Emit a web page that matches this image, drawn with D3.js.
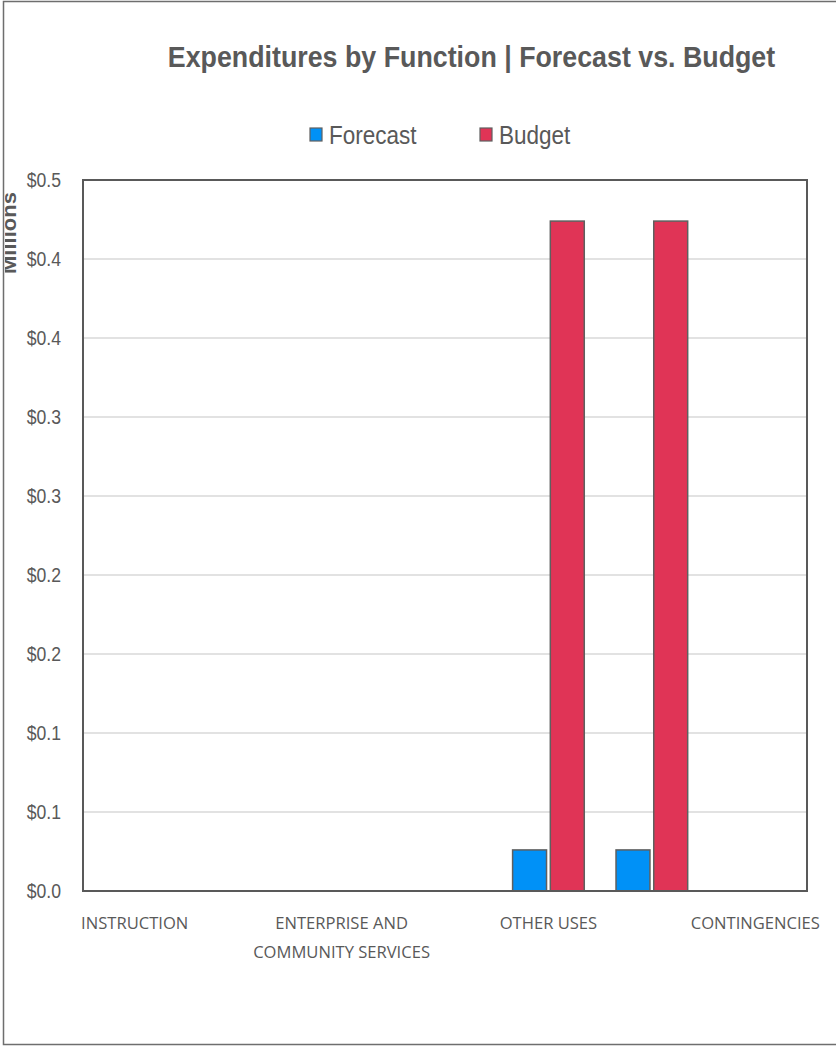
<!DOCTYPE html>
<html>
<head>
<meta charset="utf-8">
<script src="https://cdn.jsdelivr.net/npm/d3@7"></script>
<style>
  html, body { margin: 0; padding: 0; background: #fff; }
  svg { display: block; }
</style>
</head>
<body>
<div id="chart"></div>
<script>
// Expenditures by function, in millions of dollars
const categories = [
  "INSTRUCTION",
  "SUPPORT SERVICES",
  "ENTERPRISE AND COMMUNITY SERVICES",
  "FACILITIES ACQUISITION AND CONSTRUCTION",
  "OTHER USES",
  "TRANSFERS",
  "CONTINGENCIES"
];
// Only every other category name is printed on the axis
const shownCategories = ["INSTRUCTION", "ENTERPRISE AND COMMUNITY SERVICES", "OTHER USES", "CONTINGENCIES"];
const seriesNames = ["Forecast", "Budget"];
const forecastValues = [0, 0, 0, 0, 0.026, 0.026, 0];
const budgetValues = [0, 0, 0, 0, 0.424, 0.424, 0];
const yTickValues = [0, 0.05, 0.10, 0.15, 0.20, 0.25, 0.30, 0.35, 0.40, 0.45];
const yTickLabels = ["$0.0", "$0.1", "$0.1", "$0.2", "$0.2", "$0.3", "$0.3", "$0.4", "$0.4", "$0.5"];
const seriesColors = ["#0091F7", "#E03456"];

const W = 836, H = 1049;
const plot = { left: 83, right: 807, top: 180, bottom: 891 };
const textGrey = "#595959";
const sans = "'Liberation Sans', Arial, sans-serif";

// squeeze a text element horizontally by a factor (narrow face look)
function condense(sel, factor) {
  sel.each(function () {
    const len = this.getComputedTextLength();
    d3.select(this)
      .attr("textLength", len * factor)
      .attr("lengthAdjust", "spacingAndGlyphs");
  });
}

const svg = d3.select("#chart").append("svg")
  .attr("width", W).attr("height", H);

// outer chart frame
svg.append("rect")
  .attr("x", 3.5).attr("y", 1.5)
  .attr("width", W + 10).attr("height", 1043)
  .attr("fill", "#fff").attr("stroke", "#6e6e6e").attr("stroke-width", 1.5);

const rows = categories.map((c, i) => ({
  category: c,
  values: [forecastValues[i], budgetValues[i]]
}));

const x0 = d3.scaleBand()
  .domain(categories)
  .range([plot.left, plot.right])
  .paddingInner(0.307)
  .paddingOuter(0.1535);

const x1 = d3.scaleBand()
  .domain(seriesNames)
  .range([0, x0.bandwidth()])
  .paddingInner(0.1);

const y = d3.scaleLinear()
  .domain([0, 0.45])
  .range([plot.bottom, plot.top]);

// horizontal gridlines
svg.append("g")
  .selectAll("line")
  .data(yTickValues.slice(1))
  .join("line")
  .attr("x1", plot.left).attr("x2", plot.right)
  .attr("y1", d => y(d)).attr("y2", d => y(d))
  .attr("stroke", "#d9d9d9").attr("stroke-width", 1.5);

// y axis labels
const yAxis = d3.axisLeft(y)
  .tickValues(yTickValues)
  .tickFormat((d, i) => yTickLabels[i])
  .tickSize(0)
  .tickPadding(22);
const gy = svg.append("g")
  .attr("transform", `translate(${plot.left},0)`)
  .call(yAxis);
gy.select(".domain").remove();
gy.selectAll("text")
  .attr("fill", textGrey)
  .style("font-family", sans)
  .style("font-size", "20px")
  .call(condense, 0.88);

// bars
const groups = svg.append("g")
  .selectAll("g")
  .data(rows)
  .join("g")
  .attr("transform", d => `translate(${x0(d.category)},0)`);

groups.selectAll("rect")
  .data(d => d.values.map((v, k) => ({ series: seriesNames[k], value: v, k })))
  .join("rect")
  .filter(d => d.value > 0)
  .attr("x", d => x1(d.series))
  .attr("y", d => y(d.value))
  .attr("width", x1.bandwidth())
  .attr("height", d => y(0) - y(d.value))
  .attr("fill", d => seriesColors[d.k])
  .attr("stroke", "#5f5f5f")
  .attr("stroke-width", 1.5);

// plot area frame
svg.append("rect")
  .attr("x", plot.left).attr("y", plot.top)
  .attr("width", plot.right - plot.left)
  .attr("height", plot.bottom - plot.top)
  .attr("fill", "none")
  .attr("stroke", "#595959").attr("stroke-width", 2);

// category labels (wrapped)
const xAxis = d3.axisBottom(x0)
  .tickValues(shownCategories)
  .tickSize(0)
  .tickPadding(0);
const gx = svg.append("g")
  .attr("transform", `translate(0,${plot.bottom})`)
  .call(xAxis);
gx.select(".domain").remove();
gx.selectAll("text").each(function (d) {
  const t = d3.select(this);
  const lines = d === "ENTERPRISE AND COMMUNITY SERVICES"
    ? ["ENTERPRISE AND", "COMMUNITY SERVICES"] : [d];
  t.text(null)
    .attr("fill", textGrey)
    .attr("y", 0).attr("dy", null)
    .style("font-family", "'Open Sans', " + sans)
    .style("font-size", "17px");
  lines.forEach((ln, i) => {
    t.append("tspan").attr("x", 0).attr("y", 38 + i * 29).text(ln);
  });
});
gx.selectAll("tspan").call(condense, 0.975);

// title
svg.append("text")
  .attr("x", 471.5).attr("y", 67)
  .attr("text-anchor", "middle")
  .attr("fill", textGrey)
  .style("font-family", sans)
  .style("font-weight", "bold")
  .style("font-size", "30px")
  .text("Expenditures by Function | Forecast vs. Budget")
  .call(condense, 0.893);

// legend
const legendItems = [
  { name: seriesNames[0], color: seriesColors[0], x: 310 },
  { name: seriesNames[1], color: seriesColors[1], x: 480 }
];
const lg = svg.append("g").selectAll("g")
  .data(legendItems)
  .join("g")
  .attr("transform", d => `translate(${d.x},128)`);
lg.append("rect")
  .attr("width", 12).attr("height", 13)
  .attr("fill", d => d.color)
  .attr("stroke", "#5f5f5f").attr("stroke-width", 1.2);
lg.append("text")
  .attr("x", 19).attr("y", 16)
  .attr("fill", textGrey)
  .style("font-family", sans)
  .style("font-size", "25px")
  .text(d => d.name)
  .call(condense, 0.9);

// units label, partly hidden by the frame edge
const clip = svg.append("clipPath").attr("id", "unitsClip");
clip.append("rect").attr("x", 5).attr("y", 0).attr("width", 40).attr("height", 400);
svg.append("g").attr("clip-path", "url(#unitsClip)")
  .append("text")
  .attr("transform", "translate(16,233) rotate(-90)")
  .attr("text-anchor", "middle")
  .attr("fill", textGrey)
  .style("font-family", sans)
  .style("font-weight", "bold")
  .style("font-size", "21px")
  .text("Millions")
  .call(condense, 1.05);
</script>
</body>
</html>
